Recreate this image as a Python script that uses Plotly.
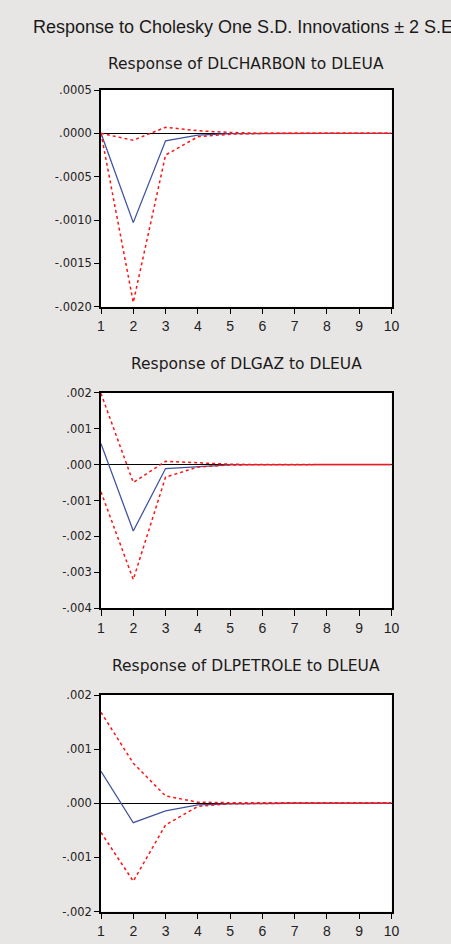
import plotly.graph_objects as go

periods = [1, 2, 3, 4, 5, 6, 7, 8, 9, 10]

charbon_resp = [0.0, -0.00103, -0.000087, -0.00002, -0.000003, 0.0, 0.0, 0.0, 0.0, 0.0]
charbon_up = [0.0, -0.00008, 0.00007, 0.00003, 0.00001, 0.0, 0.0, 0.0, 0.0, 0.0]
charbon_lo = [0.0, -0.00195, -0.00025, -0.00004, -0.00001, 0.0, 0.0, 0.0, 0.0, 0.0]

gaz_resp = [0.00058, -0.00185, -0.00011, -0.00005, -0.00001, 0.0, 0.0, 0.0, 0.0, 0.0]
gaz_up = [0.00198, -0.0005, 0.00009, 0.00004, 0.00001, 0.0, 0.0, 0.0, 0.0, 0.0]
gaz_lo = [-0.00076, -0.0032, -0.00035, -0.00007, -0.00001, 0.0, 0.0, 0.0, 0.0, 0.0]

petrole_resp = [0.00059, -0.00036, -0.00014, -0.00003, -0.00001, 0.0, 0.0, 0.0, 0.0, 0.0]
petrole_up = [0.00168, 0.00074, 0.000135, 0.00002, 0.00001, 0.00001, 0.00001, 0.00001, 0.00001, 0.00001]
petrole_lo = [-0.00054, -0.00144, -0.0004, -0.00006, -0.00001, 0.0, 0.0, 0.0, 0.0, 0.0]

main_title = "Response to Cholesky One S.D. Innovations \u00b1 2 S.E."
panel_titles = ["Response of DLCHARBON to DLEUA",
                "Response of DLGAZ to DLEUA",
                "Response of DLPETROLE to DLEUA"]

y_ticks = [
    ([0.0005, 0.0, -0.0005, -0.0010, -0.0015, -0.0020],
     [".0005", ".0000", "-.0005", "-.0010", "-.0015", "-.0020"]),
    ([0.002, 0.001, 0.0, -0.001, -0.002, -0.003, -0.004],
     [".002", ".001", ".000", "-.001", "-.002", "-.003", "-.004"]),
    ([0.002, 0.001, 0.0, -0.001, -0.002],
     [".002", ".001", ".000", "-.001", "-.002"]),
]
y_ranges = [[-0.0020, 0.0005], [-0.004, 0.002], [-0.002, 0.002]]

series = [
    (charbon_resp, charbon_up, charbon_lo),
    (gaz_resp, gaz_up, gaz_lo),
    (petrole_resp, petrole_up, petrole_lo),
]

W, H = 451, 944
x_dom = [101 / W, 391.5 / W]
panels_px = [(90, 306.7), (392.7, 608.3), (695, 911.5)]
title_px = [64, 364, 666]

BLUE = "#42549F"
RED = "#FF1414"
BG = "#E8E6E4"
SANS = "Liberation Sans, Arial, sans-serif"
WIDE = "DejaVu Sans, sans-serif"

fig = go.Figure()
layout = dict(
    width=W, height=H,
    margin=dict(l=0, r=0, t=0, b=0),
    paper_bgcolor=BG, plot_bgcolor="white",
    showlegend=False,
    font=dict(family=SANS, color="#1a1a1a"),
    annotations=[],
)

for i, (resp, up, lo) in enumerate(series):
    n = i + 1
    xa = "x" if n == 1 else f"x{n}"
    ya = "y" if n == 1 else f"y{n}"
    top, bot = panels_px[i]
    ydom = [1 - bot / H, 1 - top / H]
    for vals, color, dash, w in [(resp, BLUE, "solid", 1.3), (up, RED, "dot", 1.5), (lo, RED, "dot", 1.5)]:
        fig.add_trace(go.Scatter(x=periods, y=vals, mode="lines",
                                 line=dict(color=color, width=w, dash=dash),
                                 xaxis=xa, yaxis=ya, hoverinfo="skip"))
    layout[f"xaxis{'' if n == 1 else n}"] = dict(
        domain=x_dom, anchor=ya, range=[1, 10],
        tickvals=periods, ticktext=[str(p) for p in periods],
        ticks="outside", ticklen=6, tickwidth=1.3, tickcolor="black",
        showline=True, linecolor="black", linewidth=1.5, mirror=True,
        showgrid=False, zeroline=False, automargin=False,
        tickfont=dict(size=14, family=SANS, color="#222"),
    )
    tv, tt = y_ticks[i]
    layout[f"yaxis{'' if n == 1 else n}"] = dict(
        domain=ydom, anchor=xa, range=y_ranges[i],
        tickvals=tv, ticktext=tt,
        ticks="outside", ticklen=5, tickwidth=1.3, tickcolor="black",
        showline=True, linecolor="black", linewidth=1.5, mirror=True,
        showgrid=False, zeroline=True, zerolinecolor="black", zerolinewidth=1.2,
        automargin=False,
        tickfont=dict(size=11.5, family=WIDE, color="#222"),
    )
    layout["annotations"].append(dict(
        text=panel_titles[i], xref="paper", yref="paper",
        x=(x_dom[0] + x_dom[1]) / 2, y=1 - title_px[i] / H,
        xanchor="center", yanchor="middle", showarrow=False,
        font=dict(size=15.5, family=WIDE, color="#1a1a1a"),
    ))

layout["annotations"].append(dict(
    text=main_title, xref="paper", yref="paper",
    x=31 / W, y=1 - 27 / H, xanchor="left", yanchor="middle",
    showarrow=False, font=dict(size=18, family=SANS, color="#1a1a1a"),
))

fig.update_layout(**layout)
fig.write_html(
    "out.html",
    config={"displayModeBar": False},
    post_script="document.body.style.margin='0';document.body.style.overflow='hidden';",
)
